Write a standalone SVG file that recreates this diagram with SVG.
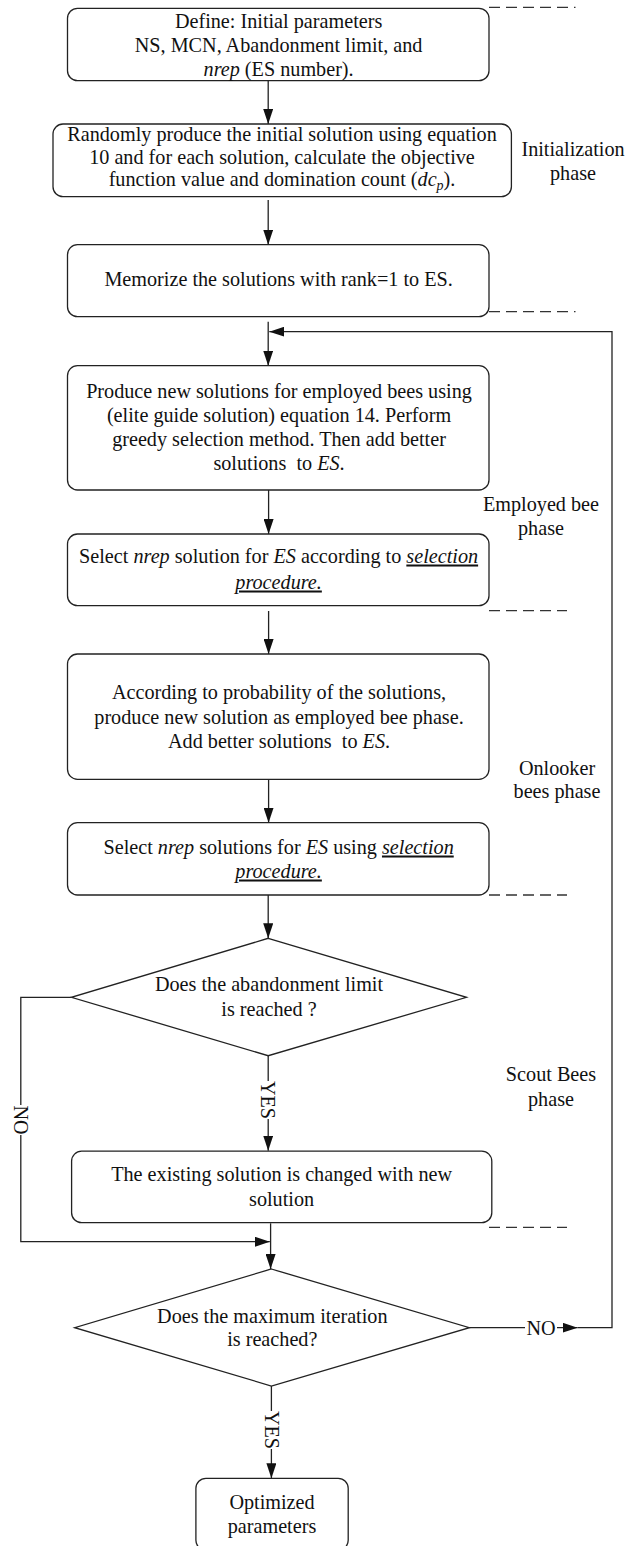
<svg xmlns="http://www.w3.org/2000/svg" width="640" height="1546" viewBox="0 0 640 1546">
<defs>
<marker id="ah" markerUnits="userSpaceOnUse" markerWidth="15" markerHeight="10" refX="15" refY="5" orient="auto"><path d="M0,0 L15,5 L0,10 z" fill="#111"/></marker>
<style>
.box{fill:#fff;stroke:#222;stroke-width:1.3}
.t{font-family:"Liberation Serif","Times New Roman",serif;font-size:20.2px;fill:#111;text-anchor:middle}
.i{font-style:italic}
.u{text-decoration:underline}
.c{fill:none;stroke:#222;stroke-width:1.3}
.a{marker-end:url(#ah)}
.d{fill:none;stroke:#333;stroke-width:1.3;stroke-dasharray:11 6}
.bg{fill:#fff}
</style>
</defs>
<rect width="640" height="1546" fill="#fff"/>

<g id="phases">
<path class="d" d="M489,7.3 H575.5"/>
<path class="d" d="M489,311.7 H575.5"/>
<path class="d" d="M489,610.7 H567"/>
<path class="d" d="M489,895 H567"/>
<path class="d" d="M489,1227.3 H567"/>
<text class="t" x="573" y="156">Initialization</text>
<text class="t" x="573" y="180">phase</text>
<text class="t" x="541" y="510.5">Employed bee</text>
<text class="t" x="541" y="534.5">phase</text>
<text class="t" x="557" y="774.5">Onlooker</text>
<text class="t" x="557" y="798">bees phase</text>
<text class="t" x="551" y="1081">Scout Bees</text>
<text class="t" x="551" y="1106">phase</text>
</g>

<g id="connectors">
<path class="c a" d="M268.2,81 V124"/>
<path class="c a" d="M268.2,200 V244.7"/>
<path class="c a" d="M268.2,321.7 V365.7"/>
<path class="c a" d="M268.6,490 V534"/>
<path class="c a" d="M268.6,611 V654"/>
<path class="c a" d="M268.6,779.3 V822.7"/>
<path class="c a" d="M268.2,895 V938.3"/>
<path class="c a" d="M268.2,1055.7 V1150.7"/>
<path class="c a" d="M71.4,997.3 H20.8 V1241.7 H269.8"/>
<path class="c a" d="M270.6,1223.3 V1269"/>
<path class="c a" d="M271.4,1386 V1478.3"/>
<path class="c a" d="M469.4,1327.7 H577.6"/>
<path class="c a" d="M577.6,1327.7 H612 V331.7 H269.3"/>
<rect class="bg" x="259" y="1081" width="20" height="38"/>
<text class="t" transform="translate(268.2,1100) rotate(90)" x="0" y="6.8">YES</text>
<rect class="bg" x="11" y="1105" width="20" height="30"/>
<text class="t" transform="translate(20.8,1120) rotate(90)" x="0" y="6.8">NO</text>
<rect class="bg" x="262" y="1411" width="20" height="38"/>
<text class="t" transform="translate(271.4,1430) rotate(90)" x="0" y="6.8">YES</text>
<rect class="bg" x="525" y="1318" width="32" height="20"/>
<text class="t" x="541" y="1334.5">NO</text>
</g>

<g id="n1">
<rect class="box" x="67.5" y="8.3" width="421.5" height="72.4" rx="10"/>
<text class="t" x="278.6" y="28">Define: Initial parameters</text>
<text class="t" x="278.6" y="52">NS, MCN, Abandonment limit, and</text>
<text class="t" x="278.6" y="76"><tspan class="i">nrep</tspan> (ES number).</text>
</g>

<g id="n2">
<rect class="box" x="53" y="124" width="458.4" height="72.7" rx="10"/>
<text class="t" x="282" y="141">Randomly produce the initial solution using equation</text>
<text class="t" x="282" y="163.5">10 and for each solution, calculate the objective</text>
<text class="t" x="282" y="186">function value and domination count (<tspan class="i">dc</tspan><tspan class="i" font-size="14" dy="4">p</tspan><tspan dy="-4">).</tspan></text>
</g>

<g id="n3">
<rect class="box" x="67.5" y="244.7" width="421.5" height="72" rx="10"/>
<text class="t" x="278.6" y="285.5">Memorize the solutions with rank=1 to ES.</text>
</g>

<g id="n4">
<rect class="box" x="67.5" y="365.7" width="421.5" height="124.3" rx="10"/>
<text class="t" x="279" y="397.5">Produce new solutions for employed bees using</text>
<text class="t" x="279" y="421.5">(elite guide solution) equation 14. Perform</text>
<text class="t" x="279" y="445.5">greedy selection method. Then add better</text>
<text class="t" x="279" y="469.5">solutions&#160; to <tspan class="i">ES</tspan>.</text>
</g>

<g id="n5">
<rect class="box" x="67.5" y="534" width="421.5" height="71.7" rx="10"/>
<text class="t" x="278.6" y="562.5">Select <tspan class="i">nrep</tspan> solution for <tspan class="i">ES</tspan> according to <tspan class="i u">selection</tspan></text>
<text class="t" x="278.6" y="588.5"><tspan class="i u">procedure.</tspan></text>
</g>

<g id="n6">
<rect class="box" x="67.5" y="654" width="421.5" height="125.3" rx="10"/>
<text class="t" x="279" y="698.5">According to probability of the solutions,</text>
<text class="t" x="279" y="723.5">produce new solution as employed bee phase.</text>
<text class="t" x="279" y="747.5">Add better solutions&#160; to <tspan class="i">ES</tspan>.</text>
</g>

<g id="n7">
<rect class="box" x="67.5" y="822.7" width="421.5" height="72.3" rx="10"/>
<text class="t" x="278.6" y="853.5">Select <tspan class="i">nrep</tspan> solutions for <tspan class="i">ES</tspan> using <tspan class="i u">selection</tspan></text>
<text class="t" x="278.6" y="877.5"><tspan class="i u">procedure.</tspan></text>
</g>

<g id="d1">
<polygon class="box" points="268.2,938.3 466.5,997.3 268.2,1055.7 71.4,997.3"/>
<text class="t" x="269" y="991">Does the abandonment limit</text>
<text class="t" x="269" y="1016">is reached ?</text>
</g>

<g id="n8">
<rect class="box" x="71.6" y="1151.2" width="420.2" height="71.5" rx="10"/>
<text class="t" x="281.6" y="1181">The existing solution is changed with new</text>
<text class="t" x="281.6" y="1205.5">solution</text>
</g>

<g id="d2">
<polygon class="box" points="271.4,1269 469.4,1327.7 271.4,1386 74.7,1327.7"/>
<text class="t" x="272.3" y="1322.5">Does the maximum iteration</text>
<text class="t" x="272.3" y="1346">is reached?</text>
</g>

<g id="n9">
<rect class="box" x="195.9" y="1478.3" width="152.3" height="72" rx="10"/>
<text class="t" x="272" y="1509">Optimized</text>
<text class="t" x="272" y="1532.5">parameters</text>
</g>
</svg>
